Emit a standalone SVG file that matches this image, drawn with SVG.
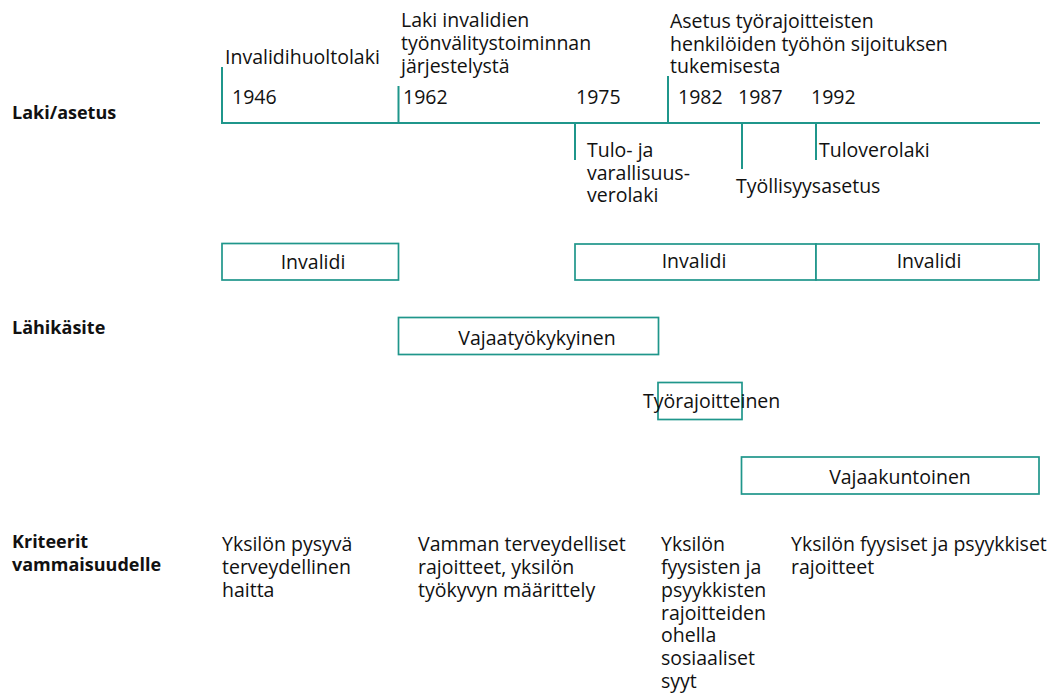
<svg xmlns="http://www.w3.org/2000/svg" width="1054" height="694" viewBox="0 0 1054 694">
<style>
text{font-family:"Open Sans","Noto Sans","Liberation Sans",sans-serif;font-size:19.5px;fill:#111}
.lab{font-weight:bold;font-size:18px}
.mid{text-anchor:middle}
.ln{stroke:#1f968b;stroke-width:2;fill:none}
.box{stroke:#1f968b;stroke-width:1.7;fill:#fff}
</style>
<rect width="1054" height="694" fill="#fff"/>
<g id="row-labels">
<text class="lab" x="12" y="119">Laki/asetus</text>
<text class="lab" x="12" y="334">Lähikäsite</text>
<text class="lab" x="12" y="548">Kriteerit</text>
<text class="lab" x="12" y="571">vammaisuudelle</text>
</g>
<g id="connectors">
<line class="ln" x1="221" y1="123" x2="1040" y2="123"/>
<line class="ln" x1="222" y1="67" x2="222" y2="123"/>
<line class="ln" x1="398.5" y1="86" x2="398.5" y2="123"/>
<line class="ln" x1="575" y1="123" x2="575" y2="160"/>
<line class="ln" x1="668" y1="76" x2="668" y2="123"/>
<line class="ln" x1="742" y1="123" x2="742" y2="169"/>
<line class="ln" x1="816" y1="123" x2="816" y2="160"/>
</g>
<g id="years">
<text x="232" y="104">1946</text>
<text x="403" y="104">1962</text>
<text x="576" y="104">1975</text>
<text x="678" y="104">1982</text>
<text x="738" y="104">1987</text>
<text x="811" y="104">1992</text>
</g>
<g id="law-1946">
<text x="225" y="64">Invalidihuoltolaki</text>
</g>
<g id="law-1962">
<text x="401" y="27">Laki invalidien</text>
<text x="401" y="50">työnvälitystoiminnan</text>
<text x="401" y="73">järjestelystä</text>
</g>
<g id="law-1975">
<text x="587" y="157">Tulo- ja</text>
<text x="587" y="180">varallisuus-</text>
<text x="587" y="202">verolaki</text>
</g>
<g id="law-1982">
<text x="670" y="28">Asetus työrajoitteisten</text>
<text x="670" y="51">henkilöiden työhön sijoituksen</text>
<text x="670" y="73">tukemisesta</text>
</g>
<g id="law-1987">
<text x="736" y="193">Työllisyysasetus</text>
</g>
<g id="law-1992">
<text x="819" y="157">Tuloverolaki</text>
</g>
<g id="invalidi-1">
<rect class="box" x="222" y="243.5" width="176.5" height="36.5"/>
<text class="mid" x="313" y="269">Invalidi</text>
</g>
<g id="invalidi-2">
<rect class="box" x="575" y="244" width="241" height="36"/>
<text class="mid" x="694" y="268">Invalidi</text>
</g>
<g id="invalidi-3">
<rect class="box" x="816" y="244" width="223" height="36"/>
<text class="mid" x="929" y="268">Invalidi</text>
</g>
<g id="vajaatyokykyinen">
<rect class="box" x="398.5" y="317.5" width="260" height="37"/>
<text class="mid" x="537" y="345">Vajaatyökykyinen</text>
</g>
<g id="tyorajoitteinen">
<rect class="box" x="658" y="382.5" width="84" height="37"/>
<text x="643" y="408">Työrajoitteinen</text>
</g>
<g id="vajaakuntoinen">
<rect class="box" x="741.5" y="457" width="297.5" height="37"/>
<text class="mid" x="900" y="484">Vajaakuntoinen</text>
</g>
<g id="crit-1">
<text x="222" y="551">Yksilön pysyvä</text>
<text x="222" y="574">terveydellinen</text>
<text x="222" y="597">haitta</text>
</g>
<g id="crit-2">
<text x="418" y="551">Vamman terveydelliset</text>
<text x="418" y="574">rajoitteet, yksilön</text>
<text x="418" y="597">työkyvyn määrittely</text>
</g>
<g id="crit-3">
<text x="661" y="551">Yksilön</text>
<text x="661" y="574">fyysisten ja</text>
<text x="661" y="597">psyykkisten</text>
<text x="661" y="620">rajoitteiden</text>
<text x="661" y="642">ohella</text>
<text x="661" y="665">sosiaaliset</text>
<text x="661" y="688">syyt</text>
</g>
<g id="crit-4">
<text x="791" y="551">Yksilön fyysiset ja psyykkiset</text>
<text x="791" y="574">rajoitteet</text>
</g>
</svg>
